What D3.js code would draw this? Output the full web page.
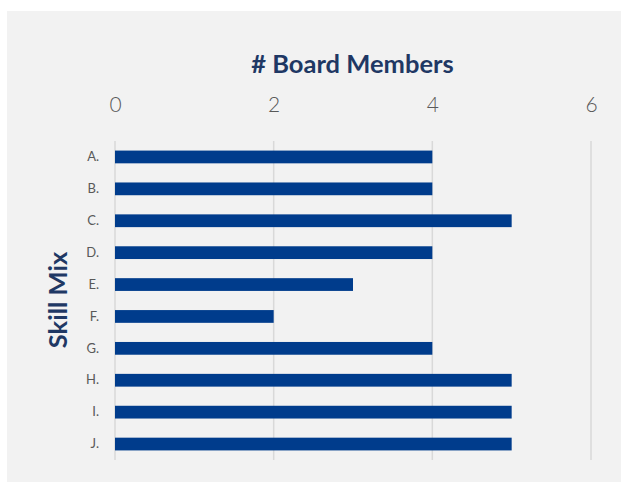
<!DOCTYPE html>
<html><head><meta charset="utf-8">
<script src="https://cdn.jsdelivr.net/npm/d3@7"></script>
<style>body{margin:0;background:#fff}</style>
</head><body>
<svg id="chart" width="621" height="482"></svg>
<script>
const categories = ["A.","B.","C.","D.","E.","F.","G.","H.","I.","J."];
const values = [4,4,5,4,3,2,4,5,5,5];
const xTicks = [0,2,4,6];
const xTitle = "# Board Members";
const yTitle = "Skill Mix";

const svg = d3.select("#chart");
svg.append("rect").attr("x",7).attr("y",11).attr("width",614).attr("height",471).attr("fill","#f2f2f2");

const x = d3.scaleLinear().domain([0,6]).range([115,591]);
const y = d3.scaleBand().domain(categories).range([141,460]).paddingInner(0.6).paddingOuter(0.3);

// gridlines
svg.append("g").selectAll("line").data(xTicks).join("line")
  .attr("x1",d=>x(d)).attr("x2",d=>x(d)).attr("y1",141).attr("y2",460)
  .attr("stroke","#d9d9d9").attr("stroke-width",1.5);

// bars
svg.append("g").selectAll("rect").data(categories).join("rect")
  .attr("x",x(0)).attr("y",d=>y(d))
  .attr("width",(d,i)=>x(values[i])-x(0)).attr("height",y.bandwidth())
  .attr("fill","#003C8C");

// top axis
const xAxis = svg.append("g").attr("transform","translate(0,112)")
  .call(d3.axisTop(x).tickValues(xTicks).tickSize(0).tickPadding(0).tickFormat(d3.format("d")));
xAxis.select(".domain").remove();
xAxis.selectAll("text").attr("dy",0).style("font-family","Lato").style("font-weight",300)
  .style("font-size","21px").style("fill","#595959");

// y axis labels
const yAxis = svg.append("g").attr("transform","translate(99,0)")
  .call(d3.axisLeft(y).tickSize(0).tickPadding(0));
yAxis.select(".domain").remove();
yAxis.selectAll("text").attr("dy","0.32em").style("font-family","Lato").style("font-weight",400)
  .style("font-size","13px").style("fill","#595959");

// titles
svg.append("text").attr("x",352.5).attr("y",73).attr("text-anchor","middle")
  .style("font-family","Lato").style("font-weight",700).style("font-size","25.5px").style("fill","#1F3864")
  .text(xTitle);
svg.append("text").attr("transform","translate(67,300) rotate(-90)").attr("text-anchor","middle")
  .style("font-family","Lato").style("font-weight",700).style("font-size","25.5px").style("fill","#1F3864")
  .text(yTitle);
</script>
</body></html>
